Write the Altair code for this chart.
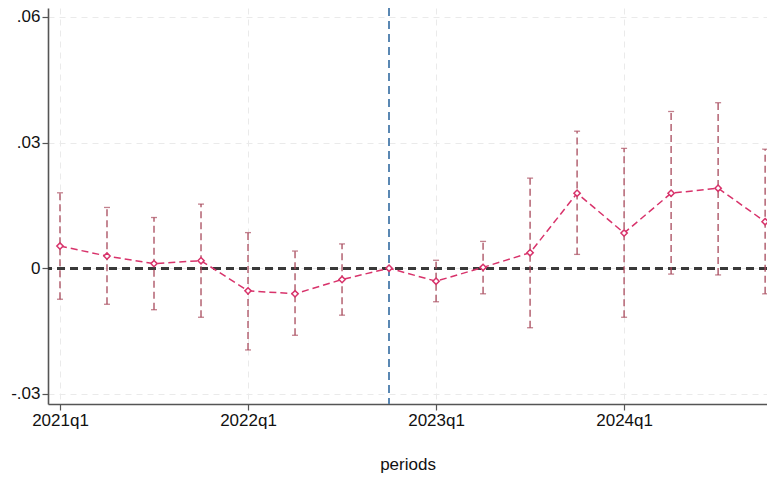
import altair as alt
import pandas as pd

periods = ["2021q1", "2021q2", "2021q3", "2021q4",
           "2022q1", "2022q2", "2022q3", "2022q4",
           "2023q1", "2023q2", "2023q3", "2023q4",
           "2024q1", "2024q2", "2024q3", "2024q4"]
coef = [0.0053, 0.0029, 0.0011, 0.0018, -0.0054, -0.0061, -0.0027, 0.0,
        -0.0031, 0.0002, 0.0037, 0.0179, 0.0084, 0.0179, 0.0191, 0.0111]
ci_lo = [-0.0074, -0.0086, -0.0099, -0.0117, -0.0195, -0.0160, -0.0112, None,
         -0.0080, -0.0061, -0.0142, 0.0033, -0.0117, -0.0014, -0.0016, -0.0061]
ci_hi = [0.0180, 0.0145, 0.0121, 0.0153, 0.0085, 0.0041, 0.0058, None,
         0.0019, 0.0064, 0.0215, 0.0327, 0.0286, 0.0374, 0.0395, 0.0284]
x_tick_values = [0, 4, 8, 12]
y_tick_values = [-0.03, 0, 0.03, 0.06]
y_tick_labels = ["-.03", "0", ".03", ".06"]
event_index = 7

df = pd.DataFrame({"idx": list(range(len(periods))), "period": periods,
                   "coef": coef, "lo": ci_lo, "hi": ci_hi})
ci_df = df.dropna()

x_scale = alt.Scale(domain=[-0.255, 15.04], nice=False, zero=False)
y_scale = alt.Scale(domain=[-0.0324, 0.0621], nice=False, zero=False)

label_arr = "[" + ",".join(f"'{p}'" for p in periods) + "]"
ylab_map = "{" + ",".join(f"'{v}':'{l}'" for v, l in zip(y_tick_values, y_tick_labels)) + "}"

x_axis = alt.Axis(values=x_tick_values, labelExpr=f"{label_arr}[datum.value]",
                  title="periods", titlePadding=28)
y_axis = alt.Axis(values=y_tick_values,
                  labelExpr=f"{ylab_map}[''+datum.value]", title=None)

base = alt.Chart(df)

grid = base.mark_point(opacity=0).encode(
    x=alt.X("idx:Q", scale=x_scale, axis=x_axis),
    y=alt.Y("coef:Q", scale=y_scale, axis=y_axis),
)

zero_line = alt.Chart(df).mark_rule(color="#3a3a3a", strokeWidth=2, strokeDash=[8, 5]).encode(
    y=alt.datum(0, scale=y_scale)
)

event_line = alt.Chart(df).mark_rule(color="#5b88b3", strokeWidth=1.6, strokeDash=[8, 5]).encode(
    x=alt.datum(event_index, scale=x_scale)
)

err_color = "#a84a5c"
err = alt.Chart(ci_df).mark_rule(color=err_color, strokeWidth=1.3, strokeDash=[7, 4]).encode(
    x=alt.X("idx:Q", scale=x_scale),
    y=alt.Y("lo:Q", scale=y_scale),
    y2="hi:Q",
)
cap_lo = alt.Chart(ci_df).mark_tick(color=err_color, orient="horizontal", size=6, thickness=1.3).encode(
    x=alt.X("idx:Q", scale=x_scale), y=alt.Y("lo:Q", scale=y_scale))
cap_hi = alt.Chart(ci_df).mark_tick(color=err_color, orient="horizontal", size=6, thickness=1.3).encode(
    x=alt.X("idx:Q", scale=x_scale), y=alt.Y("hi:Q", scale=y_scale))

line = base.mark_line(color="#d8336b", strokeWidth=1.5, strokeDash=[7, 4]).encode(
    x=alt.X("idx:Q", scale=x_scale), y=alt.Y("coef:Q", scale=y_scale))
pts = base.mark_point(shape="diamond", filled=True, fill="white", stroke="#d8336b",
                      strokeWidth=1.5, size=40, opacity=1).encode(
    x=alt.X("idx:Q", scale=x_scale), y=alt.Y("coef:Q", scale=y_scale))

chart = alt.layer(grid, zero_line, event_line, err, cap_lo, cap_hi, line, pts).properties(
    width=719, height=396,
    autosize=alt.AutoSizeParams(type="none"),
    padding={"left": 40, "top": 0, "right": 0, "bottom": 70},
).configure_view(stroke=None).configure_axis(
    labelFont="Liberation Sans", titleFont="Liberation Sans",
    labelFontSize=17, titleFontSize=17, titleFontWeight="normal",
    labelColor="#111111", titleColor="#111111",
    domainColor="#555555", domainWidth=1.6,
    tickColor="#555555", tickSize=6, tickWidth=1.2,
    gridColor="#eaeaea", gridDash=[6, 5], gridWidth=1,
    labelPadding=2,
)

chart.save("out.html", embed_options={"renderer": "svg", "actions": False})
